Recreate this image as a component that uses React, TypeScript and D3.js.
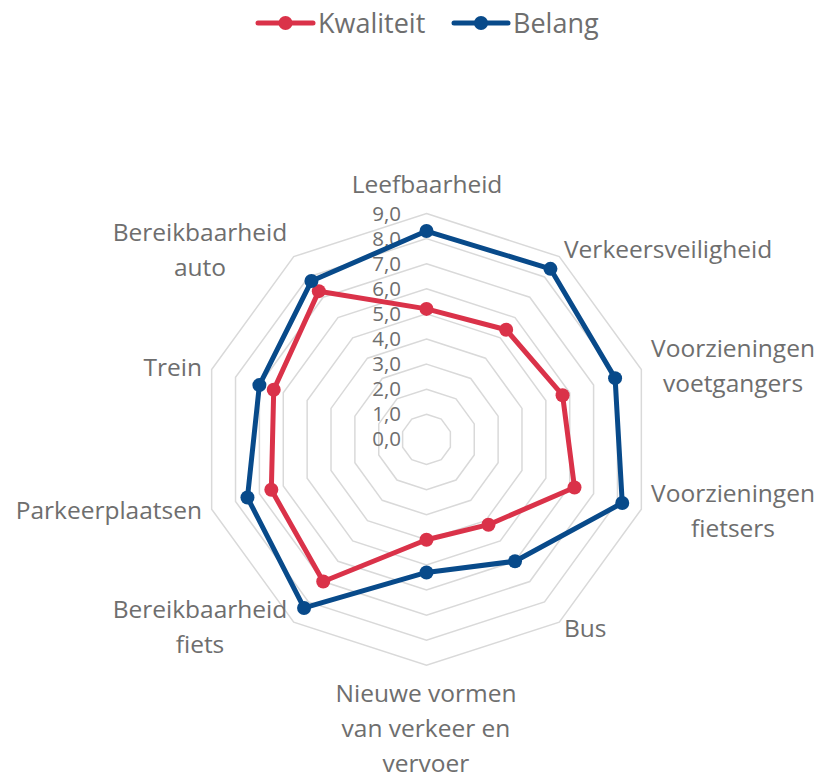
import React from 'react';
import * as d3 from 'd3';

const categories = [
  ['Leefbaarheid'],
  ['Verkeersveiligheid'],
  ['Voorzieningen', 'voetgangers'],
  ['Voorzieningen', 'fietsers'],
  ['Bus'],
  ['Nieuwe vormen', 'van verkeer en', 'vervoer'],
  ['Bereikbaarheid', 'fiets'],
  ['Parkeerplaatsen'],
  ['Trein'],
  ['Bereikbaarheid', 'auto'],
];
const kwaliteit = [5.2, 5.4, 5.7, 6.2, 4.2, 4.0, 7.0, 6.5, 6.4, 7.3];
const belang = [8.3, 8.4, 7.9, 8.2, 6.0, 5.3, 8.3, 7.5, 7.0, 7.8];
const ticks = [0, 1, 2, 3, 4, 5, 6, 7, 8, 9];

const series = [
  { name: 'Kwaliteit', values: kwaliteit, color: '#DA3249' },
  { name: 'Belang', values: belang, color: '#084A8A' },
];

// label anchor per category: [x, y of first baseline, text-anchor]
const labelPos: [number, number, string][] = [
  [427, 193, 'middle'],
  [564, 258, 'start'],
  [733, 357, 'middle'],
  [733, 502, 'middle'],
  [564, 637, 'start'],
  [426, 702, 'middle'],
  [200, 618, 'middle'],
  [202, 519, 'end'],
  [202, 376, 'end'],
  [200, 241, 'middle'],
];

const W = 823;
const H = 772;
const cx = 426.5;
const cy = 439.4;
const font = "'Open Sans', 'Noto Sans', sans-serif";
const textColor = '#6E6E6E';

const App: React.FC = () => {
  const r = d3.scaleLinear().domain([0, 9]).range([0, 225.9]);
  const angle = d3
    .scaleLinear()
    .domain([0, categories.length])
    .range([0, 2 * Math.PI]);

  const pt = (i: number, v: number): [number, number] => {
    const a = angle(i);
    return [cx + r(v) * Math.sin(a), cy - r(v) * Math.cos(a)];
  };

  const ring = (v: number) => {
    const pts = categories.map((_, i) => pt(i, v));
    return d3.line().curve(d3.curveLinearClosed)(pts) || '';
  };

  const legend = [
    { x0: 258, x1: 313, tx: 318 },
    { x0: 454, x1: 508, tx: 513 },
  ];

  return (
    <svg
      width={W}
      height={H}
      style={{ position: 'absolute', left: 0, top: 0 }}
      fontFamily={font}
    >
      <rect width={W} height={H} fill="#fff" />

      {/* grid */}
      {ticks.slice(1).map((t) => (
        <path key={t} d={ring(t)} fill="none" stroke="#D9D9D9" strokeWidth={1.5} />
      ))}

      {/* tick labels */}
      {ticks.map((t) => (
        <text
          key={t}
          x={401}
          y={cy - r(t) + 7}
          textAnchor="end"
          fontSize={20.5}
          fill={textColor}
        >
          {d3.format('.1f')(t).replace('.', ',')}
        </text>
      ))}

      {/* category labels */}
      {categories.map((lines, i) => (
        <text
          key={i}
          x={labelPos[i][0]}
          y={labelPos[i][1]}
          textAnchor={labelPos[i][2] as any}
          fontSize={24.5}
          fill={textColor}
        >
          {lines.map((l, j) => (
            <tspan key={j} x={labelPos[i][0]} dy={j === 0 ? 0 : 35}>
              {l}
            </tspan>
          ))}
        </text>
      ))}

      {/* series */}
      {series.map((s) => {
        const pts = s.values.map((v, i) => pt(i, v));
        return (
          <g key={s.name}>
            <path
              d={d3.line().curve(d3.curveLinearClosed)(pts) || ''}
              fill="none"
              stroke={s.color}
              strokeWidth={5}
              strokeLinejoin="round"
            />
            {pts.map((p, i) => (
              <circle key={i} cx={p[0]} cy={p[1]} r={7} fill={s.color} />
            ))}
          </g>
        );
      })}

      {/* legend */}
      {series.map((s, i) => (
        <g key={s.name}>
          <line
            x1={legend[i].x0}
            x2={legend[i].x1}
            y1={23}
            y2={23}
            stroke={s.color}
            strokeWidth={5}
            strokeLinecap="round"
          />
          <circle cx={(legend[i].x0 + legend[i].x1) / 2} cy={23} r={7} fill={s.color} />
          <text x={legend[i].tx} y={33} fontSize={27} fill={textColor}>
            {s.name}
          </text>
        </g>
      ))}
    </svg>
  );
};

export default App;
